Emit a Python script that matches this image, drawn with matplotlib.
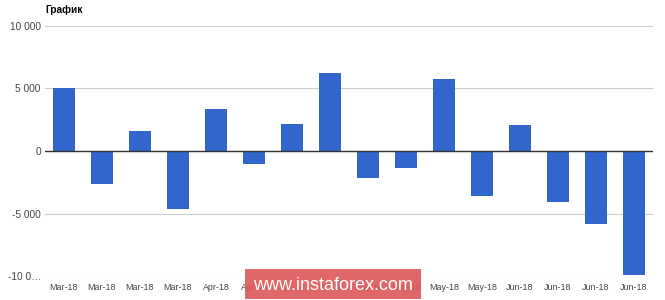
import matplotlib
matplotlib.use("Agg")
import matplotlib.pyplot as plt
from matplotlib.patches import Rectangle

plt.rcParams['font.family'] = ['Liberation Sans', 'DejaVu Sans']

categories = ["Mar-18", "Mar-18", "Mar-18", "Mar-18",
              "Apr-18", "Apr-18", "Apr-18", "Apr-18",
              "May-18", "May-18", "May-18", "May-18",
              "Jun-18", "Jun-18", "Jun-18", "Jun-18"]
values = [5000, -2600, 1600, -4620, 3320, -1010, 2180, 6210,
          -2150, -1350, 5760, -3560, 2050, -4090, -5840, -9860]
ytick_vals = [-10000, -5000, 0, 5000, 10000]
ytick_labels = ["-10 0…", "-5 000", "0", "5 000", "10 000"]
title = "График"
watermark = "www.instaforex.com"

fig = plt.figure(figsize=(6.65, 3.0), dpi=100)
ax = fig.add_axes([45/665, 23.5/300, 608/665, 251/300])

x = list(range(len(values)))
ax.bar(x, values, width=0.6, color="#3366cc", zorder=3)
ax.set_xlim(-0.5, len(values) - 0.5)
ax.set_ylim(-10000, 10000)
ax.set_yticks(ytick_vals)
ax.set_yticklabels(ytick_labels)
ax.set_xticks(x)
ax.set_xticklabels(categories)
ax.grid(axis="y", color="#cccccc", linewidth=0.8, zorder=0)
ax.axhline(0, color="#333333", linewidth=1.0, zorder=4)
for s in ax.spines.values():
    s.set_visible(False)
ax.tick_params(axis="both", length=0)
ax.tick_params(axis="y", labelsize=7.3, labelcolor="#444444", pad=3)
ax.tick_params(axis="x", labelsize=6.4, labelcolor="#444444", pad=5)

fig.text(45.5/665, 1 - 10/300, title, fontsize=7.3, fontweight="bold",
         color="#000000", ha="left", va="center")

# watermark overlay
fig.patches.append(Rectangle((245/665, 1/300), 176/665, 30/300,
                             transform=fig.transFigure, facecolor="#de5858",
                             alpha=0.9, edgecolor="none", zorder=10))
fig.text(333/665, 15/300, watermark, fontsize=13, color="white",
         ha="center", va="center", zorder=11)

fig.savefig("out.png", dpi=100)
